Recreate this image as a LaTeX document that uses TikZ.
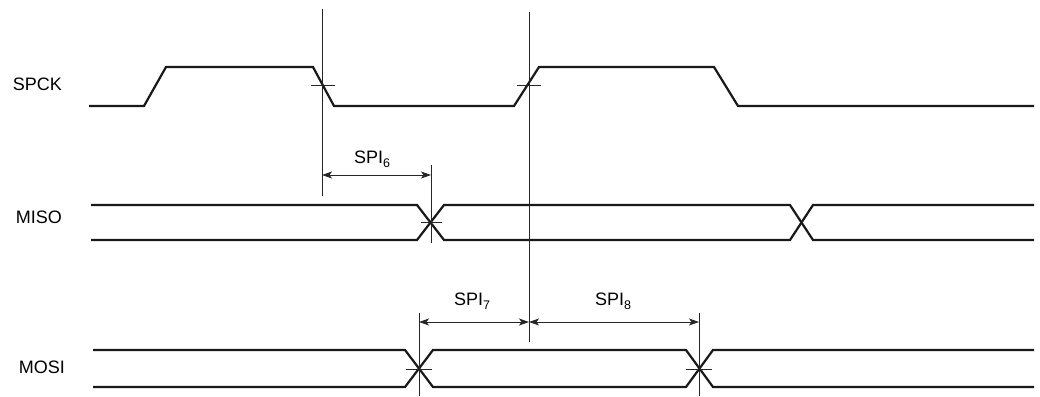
\documentclass[tikz,border=0pt]{standalone}
\usepackage{fontspec}
\setmainfont{Liberation Sans}
\usetikzlibrary{arrows.meta}
\newcommand{\lowsub}[1]{\raisebox{-4pt}{\fontsize{12.5}{13}\selectfont #1}}
\begin{document}
\begin{tikzpicture}[x=1pt,y=-1pt,
  sig/.style={line width=2.2pt, line join=miter, black!90},
  thin/.style={line width=0.9pt, black!85},
  dim/.style={line width=0.9pt, black!85, {Stealth[length=10pt,width=7pt,inset=2.5pt]}-{Stealth[length=10pt,width=7pt,inset=2.5pt]}},
  lbl/.style={font=\fontsize{18}{21}\selectfont, inner sep=0pt},
  dimlbl/.style={font=\fontsize{18}{21}\selectfont, inner sep=0pt, anchor=base}]
\useasboundingbox (0,0) rectangle (1040,396);

% signal names
\node[lbl, anchor=base east] (spck) at (62,90) {SPCK};
\node[lbl, anchor=base east] (miso) at (62,223) {MISO};
\node[lbl, anchor=base east] (mosi) at (65,373) {MOSI};

% SPCK waveform
\draw[sig] (89,106) -- (144,106) -- (166,67) -- (313,67) -- (334,106) -- (514,106)
  -- (539,67) -- (714,67) -- (738,106) -- (1034,106);

% MISO waveform
\draw[sig] (91,205) -- (417,205) -- (444,240) -- (790,240) -- (813,205) -- (1034,205);
\draw[sig] (91,240) -- (417,240) -- (444,205) -- (790,205) -- (813,240) -- (1034,240);

% MOSI waveform
\draw[sig] (93,350) -- (405,350) -- (433,387) -- (686,387) -- (713,350) -- (1034,350);
\draw[sig] (93,387) -- (405,387) -- (433,350) -- (686,350) -- (713,387) -- (1034,387);

% reference lines
\coordinate (v1t) at (322,9);   \coordinate (v1b) at (322,196);
\coordinate (v2t) at (529,12);  \coordinate (v2b) at (529,342);
\coordinate (v3t) at (431,165); \coordinate (v3b) at (431,243);
\coordinate (v4t) at (419,313); \coordinate (v4b) at (419,396);
\coordinate (v5t) at (699,313); \coordinate (v5b) at (699,396);
\draw[thin] (v1t) -- (v1b);
\draw[thin] (v2t) -- (v2b);
\draw[thin] (v3t) -- (v3b);
\draw[thin] (v4t) -- (v4b);
\draw[thin] (v5t) -- (v5b);

% crossing ticks
\draw[thin] (311,85) -- (335,85);
\draw[thin] (517,85) -- (541,85);
\draw[thin] (421,222) -- (442,222);
\draw[thin] (406,369) -- (432,369);
\draw[thin] (686,369) -- (712,369);

% dimension arrows
\coordinate (a6l) at (322,175); \coordinate (a6r) at (431,175);
\coordinate (a7l) at (419,322); \coordinate (a7r) at (529,322);
\coordinate (a8l) at (529,322); \coordinate (a8r) at (699,322);
\draw[dim] (a6l) -- (a6r);
\draw[dim] (a7l) -- (a7r);
\draw[dim] (a8l) -- (a8r);

\node[dimlbl] (spi6) at (372,163) {SPI\lowsub{6}};
\node[dimlbl] (spi7) at (472,305) {SPI\lowsub{7}};
\node[dimlbl] (spi8) at (613,305) {SPI\lowsub{8}};
\end{tikzpicture}
\end{document}
